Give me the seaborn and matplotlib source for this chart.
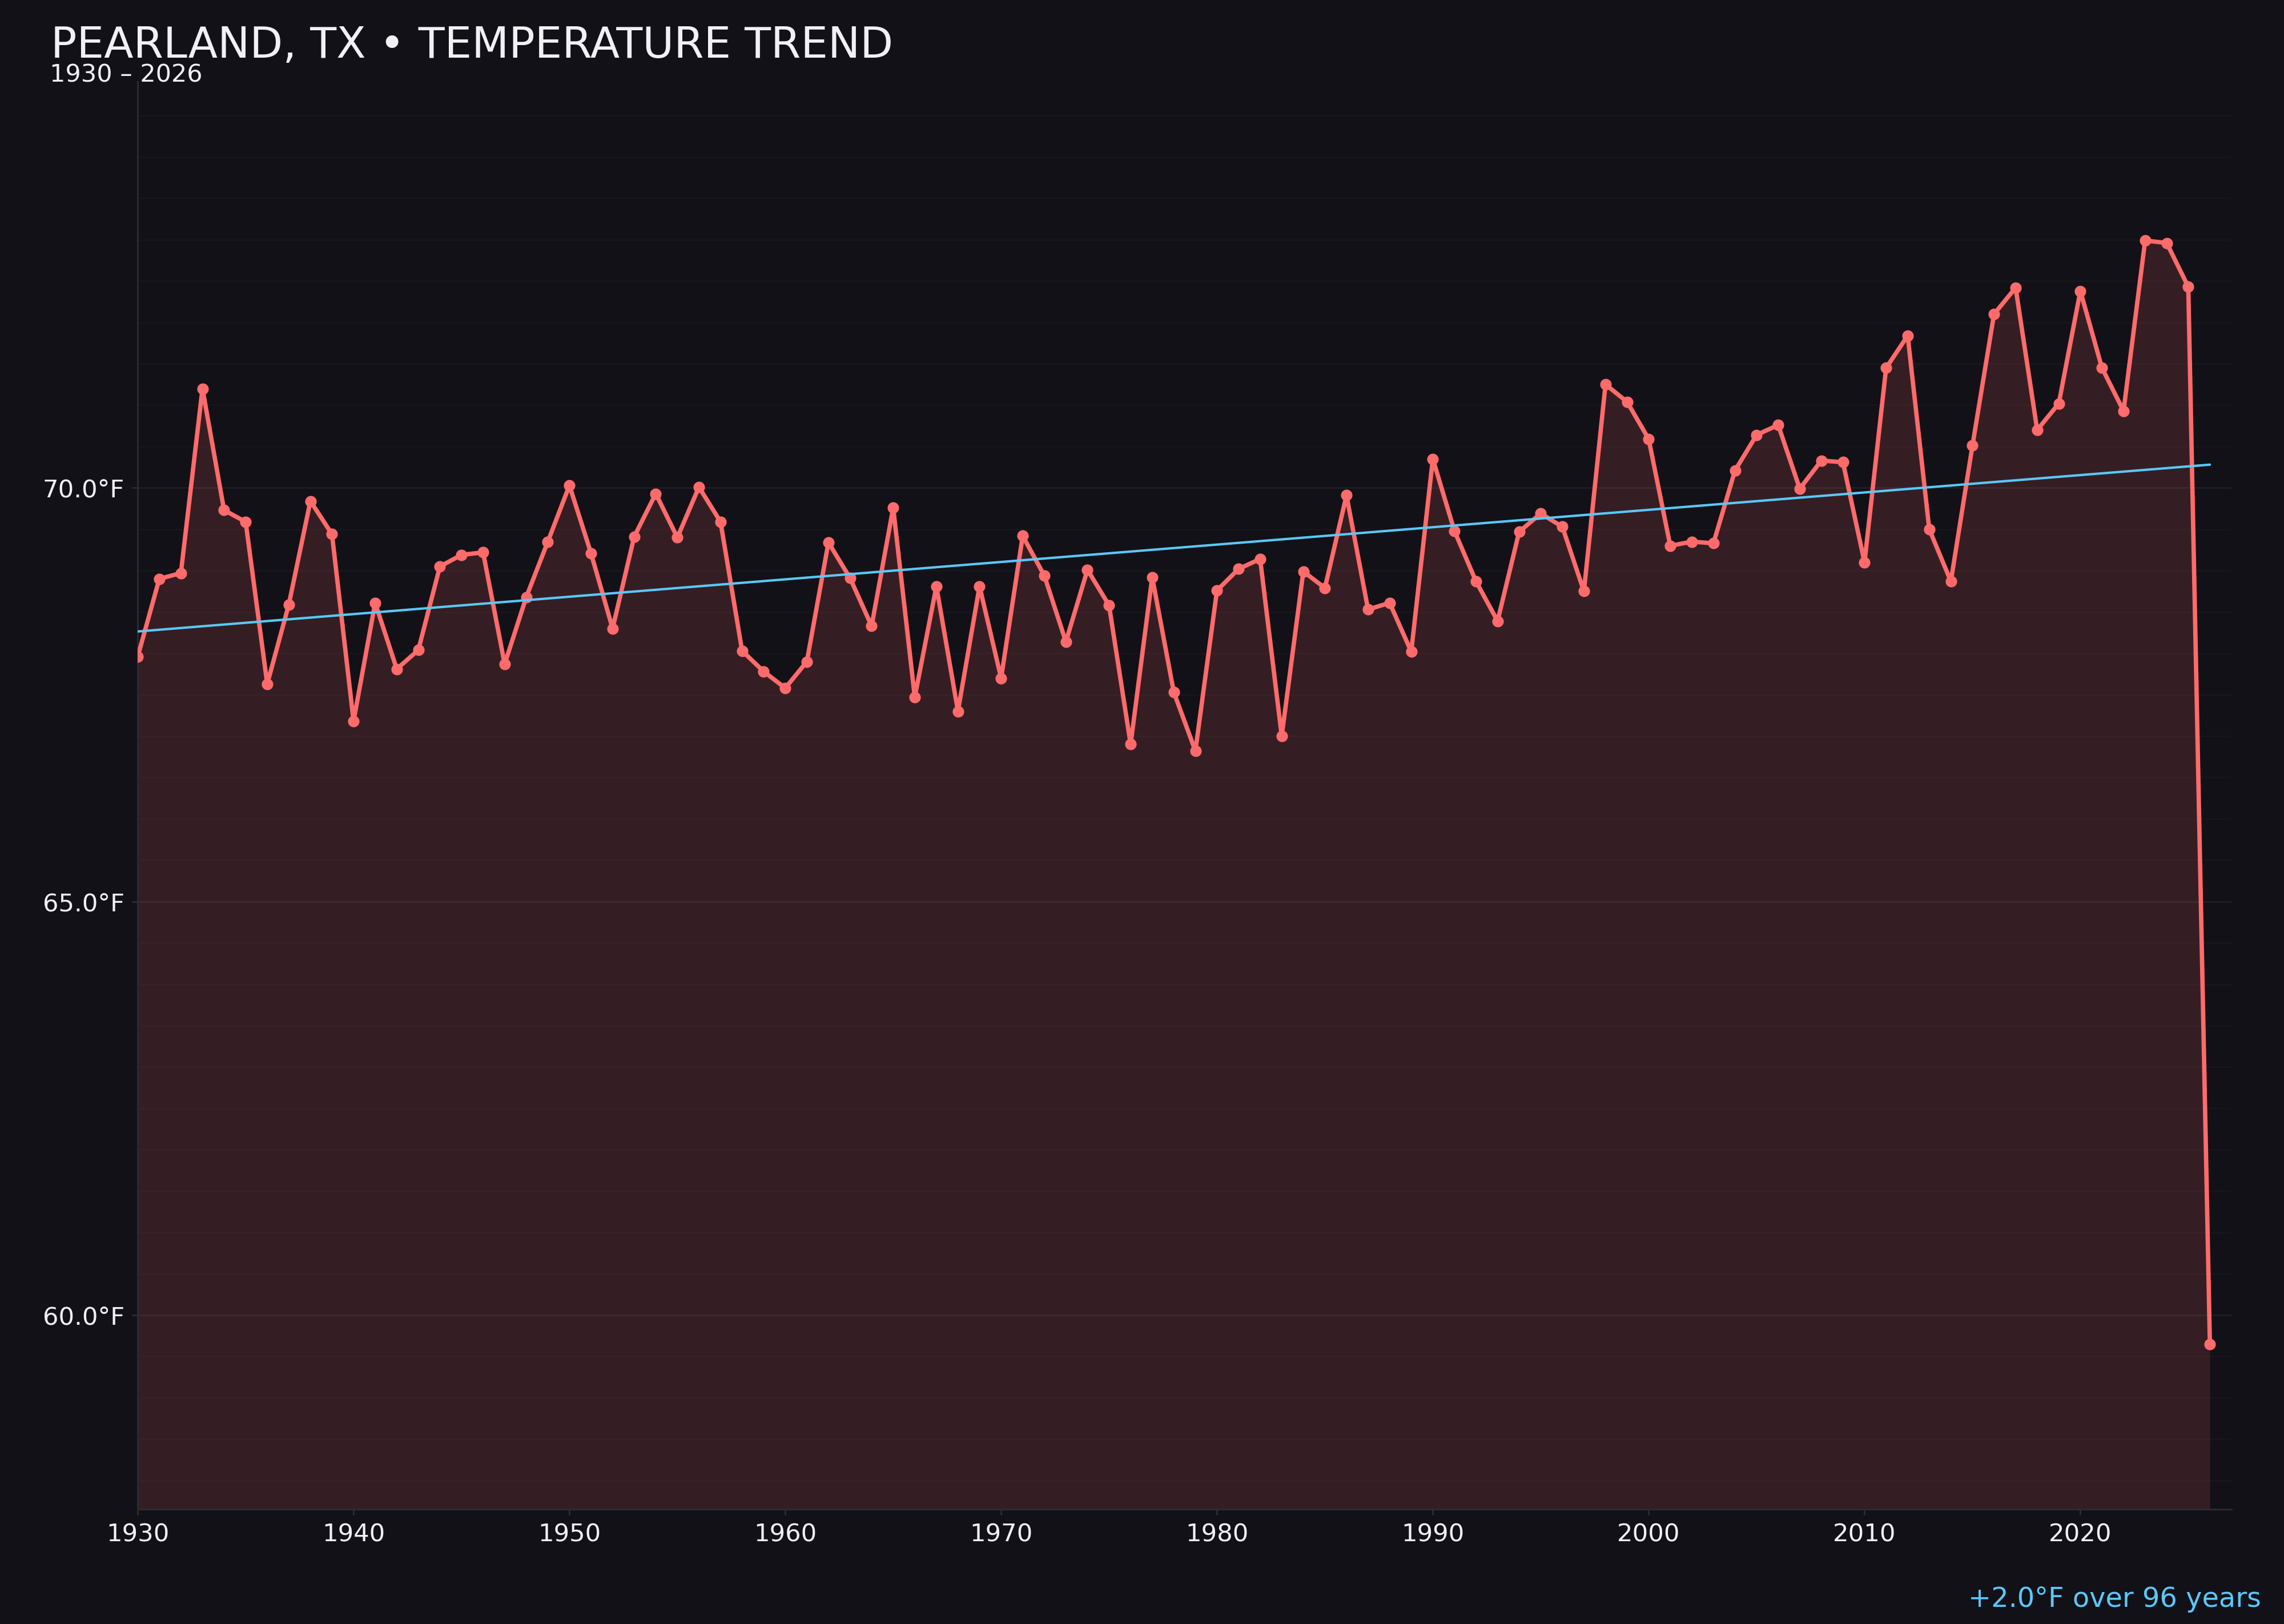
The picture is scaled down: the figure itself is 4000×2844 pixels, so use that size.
import numpy as np
import pandas as pd
import seaborn as sns
import matplotlib.pyplot as plt
from matplotlib.ticker import FixedLocator, MultipleLocator

# annual mean temperature, Pearland TX
years = list(range(1930, 2027))
temps = [67.96, 68.90, 68.97, 71.20, 69.73, 69.59, 67.63, 68.59, 69.84, 69.44,
         67.18, 68.61, 67.81, 68.04, 69.05, 69.19, 69.22, 67.87, 68.68, 69.35,
         70.03, 69.21, 68.30, 69.41, 69.93, 69.40, 70.01, 69.59, 68.03, 67.78,
         67.58, 67.90, 69.34, 68.91, 68.33, 69.76, 67.47, 68.81, 67.30, 68.81,
         67.70, 69.42, 68.94, 68.14, 69.01, 68.58, 66.90, 68.92, 67.53, 66.82,
         68.76, 69.02, 69.14, 67.00, 68.99, 68.79, 69.91, 68.53, 68.61, 68.02,
         70.35, 69.48, 68.87, 68.39, 69.47, 69.69, 69.53, 68.75, 71.25, 71.04,
         70.59, 69.30, 69.35, 69.33, 70.21, 70.64, 70.76, 69.99, 70.33, 70.31,
         69.10, 71.45, 71.84, 69.50, 68.87, 70.51, 72.10, 72.42, 70.70, 71.02,
         72.38, 71.45, 70.93, 72.99, 72.96, 72.43, 59.65]

xticks = [1930, 1940, 1950, 1960, 1970, 1980, 1990, 2000, 2010, 2020]
yticks = [60.0, 65.0, 70.0]

title = "PEARLAND, TX \u2022 TEMPERATURE TREND"
subtitle = "1930 \u2013 2026"
note = "+2.0\u00b0F over 96 years"

bg = "#121117"
red = "#ff6b6b"
blue = "#5ac8fa"
txt = "#f0f0f5"

df = pd.DataFrame({"year": years, "temp": temps})

sns.set_theme(style="dark", rc={
    "figure.facecolor": bg,
    "axes.facecolor": bg,
    "axes.edgecolor": "#2c2c35",
    "text.color": txt,
    "xtick.color": txt,
    "ytick.color": txt,
})
plt.rcParams["font.family"] = ["DejaVu Sans"]

fig = plt.figure(figsize=(16, 11.376), dpi=250)
ax = fig.add_axes([0.0603, 0.0705, 0.9167, 0.8792])

ylo = df.temp.min() - 2.0
yhi = df.temp.max() + 1.92

# filled area under the series
ax.fill_between(df.year, df.temp, ylo, color=red, alpha=0.15, lw=0, zorder=1)

sns.lineplot(data=df, x="year", y="temp", ax=ax, color=red, lw=2.2,
             marker="o", markersize=5.8, markeredgewidth=0, zorder=3)

# linear trend
sns.regplot(data=df, x="year", y="temp", ax=ax, scatter=False, ci=None,
            line_kws={"color": blue, "lw": 1.2, "zorder": 4})

ax.set_xlim(1930, 2027)
ax.set_ylim(ylo, yhi)
ax.set_xlabel("")
ax.set_ylabel("")

ax.xaxis.set_major_locator(FixedLocator(xticks))
ax.yaxis.set_major_locator(FixedLocator(yticks))
ax.yaxis.set_minor_locator(MultipleLocator(0.5))
ax.set_yticklabels([f"{v:.1f}\u00b0F" for v in yticks])

ax.tick_params(axis="both", which="major", labelsize=12.5, length=3,
               width=0.8, color="#2c2c35", pad=3.7)
ax.tick_params(axis="y", which="minor", length=0)
ax.tick_params(axis="x", bottom=True)
ax.tick_params(axis="y", left=True)

ax.grid(False)
ax.grid(axis="y", which="major", color="#1f1e25", lw=0.8, zorder=0)
ax.grid(axis="y", which="minor", color="#17161c", lw=0.8, zorder=0)
ax.set_axisbelow(True)

for s in ["top", "right"]:
    ax.spines[s].set_visible(False)
for s in ["left", "bottom"]:
    ax.spines[s].set_color("#2c2c35")
    ax.spines[s].set_linewidth(0.8)

fig.text(0.0223, 0.9645, title, fontsize=21.7, color=txt, va="baseline")
fig.text(0.0218, 0.9494, subtitle, fontsize=12.4, color=txt, va="baseline")
fig.text(0.990, 0.0105, note, fontsize=13.8, color=blue, ha="right",
         va="baseline")

fig.savefig("out.png", dpi=250, facecolor=bg)
